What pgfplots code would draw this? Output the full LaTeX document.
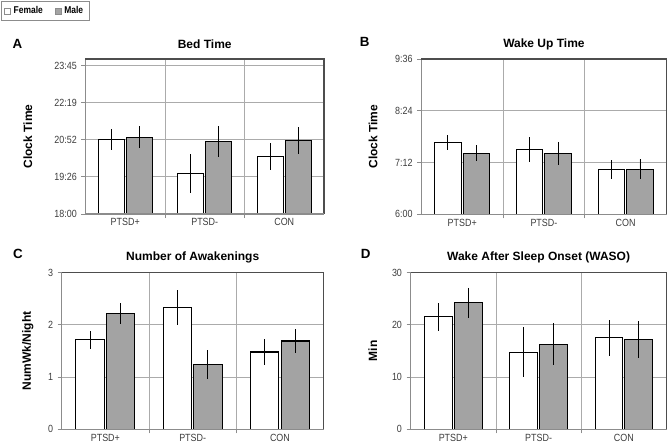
\documentclass[border=0pt]{standalone}
\usepackage{fontspec}
\setmainfont{Liberation Sans}
\newfontfamily\narrowfont[FakeStretch=0.86]{Liberation Sans}
\usepackage{pgfplots}
\pgfplotsset{compat=1.18}
\usepackage{xcolor}
\definecolor{barGray}{HTML}{A3A3A3}
\definecolor{gridGray}{HTML}{ABABAB}
\definecolor{axisGray}{HTML}{8C8C8C}
\definecolor{frameDark}{HTML}{4D4D4D}
\definecolor{tickText}{HTML}{3C3C3C}

% panel A, bed time in hours
\pgfplotstableread{
x y e
0 20.88 0.40
1 19.57 0.74
2 20.23 0.53
}\bedF
\pgfplotstableread{
x y e
0 20.97 0.43
1 20.81 0.60
2 20.84 0.52
}\bedM
% panel B, wake up time in hours
\pgfplotstableread{
x y e
0 7.66 0.18
1 7.51 0.29
2 7.04 0.22
}\wakeF
\pgfplotstableread{
x y e
0 7.415 0.19
1 7.415 0.27
2 7.04 0.23
}\wakeM
% panel C, awakenings per night
\pgfplotstableread{
x y e
0 1.71 0.18
1 2.33 0.34
2 1.48 0.25
}\awkF
\pgfplotstableread{
x y e
0 2.21 0.20
1 1.24 0.28
2 1.69 0.23
}\awkM
% panel D, WASO in minutes
\pgfplotstableread{
x y e
0 21.5 2.6
1 14.75 4.8
2 17.55 3.45
}\wasoF
\pgfplotstableread{
x y e
0 24.2 2.9
1 16.3 4.0
2 17.2 3.5
}\wasoM

\pgfplotsset{
  panel/.style={
    scale only axis, clip=false,
    axis lines=left, axis line style={-, draw=axisGray, line width=0.6pt},
    xmin=-0.5, xmax=2.5,
    xtick={0.5,1.5}, xticklabels={},
    extra x ticks={0,1,2}, extra x tick labels={PTSD+,PTSD-,CON},
    extra x tick style={major tick length=0pt, grid=none},
    tick align=outside, major tick length=3pt,
    tick style={draw=axisGray, line width=0.6pt},
    grid=major, grid style={draw=gridGray, line width=0.6pt},
    ticklabel style={font=\narrowfont\fontsize{7.8}{9}\selectfont, text=tickText},
    /pgf/number format/assume math mode=true,
    title style={font=\bfseries\fontsize{9}{10}\selectfont, at={(0.5,1)}, anchor=center, yshift=5pt},
    ylabel style={font=\bfseries\fontsize{9}{10}\selectfont, anchor=center, rotate=0},
    ybar, bar width=0.325,
  },
  fem/.style={fill=white, draw=black, line width=0.8pt, bar shift=-0.175,
    error bars/.cd, y dir=both, y explicit, error mark=none,
    error bar style={draw=black, line width=0.7pt}},
  mal/.style={fill=barGray, draw=black, line width=0.8pt, bar shift=0.175,
    error bars/.cd, y dir=both, y explicit, error mark=none,
    error bar style={draw=black, line width=0.7pt}},
}

\begin{document}
\begin{tikzpicture}
\useasboundingbox (0,0) rectangle (501pt,333pt);

% A
\begin{axis}[panel, at={(64.1pt,172.5pt)}, width=178.9pt, height=116.25pt,
  ymin=18, ymax=24,
  ytick={18,19.4367,20.8733,22.31,23.7467},
  yticklabels={18:00,19:26,20:52,22:19,23:45},
  title={Bed Time}, ylabel={Clock Time},
  ylabel style={at={(axis description cs:-0.242,0.5)}},
  legend style={at={(-0.356,1.377)}, anchor=north west, legend columns=2,
    draw=axisGray, line width=0.7pt, font=\bfseries\narrowfont\fontsize{7.4}{8}\selectfont,
    inner xsep=2.5pt, inner ysep=2pt,
    /tikz/every even column/.append style={column sep=7pt}},
  legend image code/.code={\draw[#1, line width=0.4pt, draw=axisGray] (0pt,-2.3pt) rectangle (4.6pt,2.3pt);},
]
\addplot[fem] table[x=x, y=y, y error=e] {\bedF};
\addlegendentry{Female}
\addplot[mal] table[x=x, y=y, y error=e] {\bedM};
\addlegendentry{Male}
\draw[frameDark, line width=0.9pt] (rel axis cs:0,1) -- (rel axis cs:1,1) -- (rel axis cs:1,0);
\draw[axisGray, line width=0.8pt] (rel axis cs:0,0) -- (rel axis cs:1,0);
\end{axis}

% B
\begin{axis}[panel, at={(316pt,172.3pt)}, width=183.9pt, height=116.5pt,
  ymin=6, ymax=9.6,
  ytick={6,7.2,8.4,9.6},
  yticklabels={6:00,7:12,8:24,9:36},
  title={Wake Up Time}, ylabel={Clock Time},
  ylabel style={at={(axis description cs:-0.197,0.5)}},
]
\addplot[fem] table[x=x, y=y, y error=e] {\wakeF};
\addplot[mal] table[x=x, y=y, y error=e] {\wakeM};
\draw[frameDark, line width=0.9pt] (rel axis cs:0,1) -- (rel axis cs:1,1) -- (rel axis cs:1,0);
\draw[axisGray, line width=0.8pt] (rel axis cs:0,0) -- (rel axis cs:1,0);
\end{axis}

% C
\begin{axis}[panel, at={(46.3pt,11pt)}, width=196.4pt, height=117.6pt,
  ymin=0, ymax=3, ytick={0,1,2,3},
  title={Number of Awakenings}, ylabel={NumWk/Night},
  ylabel style={at={(axis description cs:-0.130,0.5)}},
]
\addplot[fem] table[x=x, y=y, y error=e] {\awkF};
\addplot[mal] table[x=x, y=y, y error=e] {\awkM};
\draw[frameDark, line width=0.9pt] (rel axis cs:0,1) -- (rel axis cs:1,1) -- (rel axis cs:1,0);
\draw[axisGray, line width=0.8pt] (rel axis cs:0,0) -- (rel axis cs:1,0);
\end{axis}

% D
\begin{axis}[panel, at={(308pt,11pt)}, width=191.9pt, height=117.6pt,
  ymin=0, ymax=30, ytick={0,10,20,30},
  title={Wake After Sleep Onset (WASO)}, ylabel={Min},
  ylabel style={at={(axis description cs:-0.148,0.5)}},
]
\addplot[fem] table[x=x, y=y, y error=e] {\wasoF};
\addplot[mal] table[x=x, y=y, y error=e] {\wasoM};
\draw[frameDark, line width=0.9pt] (rel axis cs:0,1) -- (rel axis cs:1,1) -- (rel axis cs:1,0);
\draw[axisGray, line width=0.8pt] (rel axis cs:0,0) -- (rel axis cs:1,0);
\end{axis}

% panel letters
\node[font=\bfseries\fontsize{10}{11}\selectfont] at (13.1pt,300pt) {A};
\node[font=\bfseries\fontsize{10}{11}\selectfont] at (273.6pt,301.5pt) {B};
\node[font=\bfseries\fontsize{10}{11}\selectfont] at (13.5pt,142.5pt) {C};
\node[font=\bfseries\fontsize{10}{11}\selectfont] at (274.3pt,142.5pt) {D};
\end{tikzpicture}
\end{document}
